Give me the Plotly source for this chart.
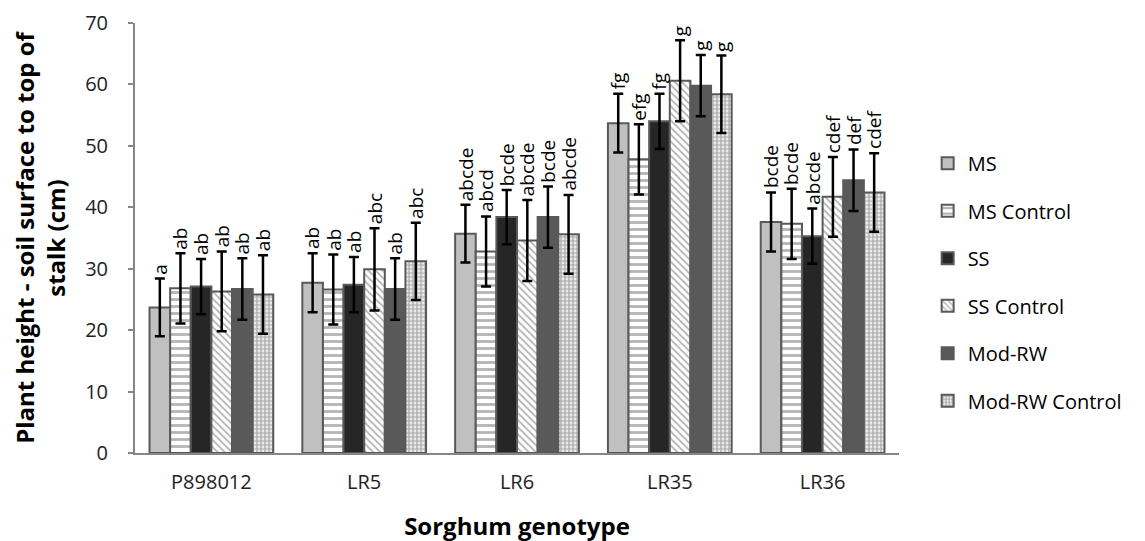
import plotly.graph_objects as go

genotypes = ["P898012", "LR5", "LR6", "LR35", "LR36"]
series = ["MS", "MS Control", "SS", "SS Control", "Mod-RW", "Mod-RW Control"]

ms = [23.7, 27.7, 35.7, 53.7, 37.6]
ms_control = [26.8, 26.6, 32.8, 47.8, 37.3]
ss = [27.1, 27.4, 38.4, 54.0, 35.3]
ss_control = [26.3, 29.9, 34.6, 60.6, 41.7]
mod_rw = [26.7, 26.7, 38.4, 59.8, 44.4]
mod_rw_control = [25.8, 31.2, 35.6, 58.4, 42.4]

ms_err = [4.7, 4.8, 4.7, 4.8, 4.8]
ms_control_err = [5.7, 5.7, 5.7, 5.7, 5.7]
ss_err = [4.5, 4.5, 4.4, 4.5, 4.5]
ss_control_err = [6.5, 6.7, 6.6, 6.6, 6.5]
mod_rw_err = [5.0, 5.0, 5.0, 5.0, 5.0]
mod_rw_control_err = [6.4, 6.3, 6.4, 6.3, 6.4]

ms_letters = ["a", "ab", "abcde", "fg", "bcde"]
ms_control_letters = ["ab", "ab", "abcd", "efg", "bcde"]
ss_letters = ["ab", "ab", "bcde", "fg", "abcde"]
ss_control_letters = ["ab", "abc", "abcde", "g", "cdef"]
mod_rw_letters = ["ab", "ab", "bcde", "g", "def"]
mod_rw_control_letters = ["ab", "abc", "abcde", "g", "cdef"]

values = [ms, ms_control, ss, ss_control, mod_rw, mod_rw_control]
errors = [ms_err, ms_control_err, ss_err, ss_control_err, mod_rw_err, mod_rw_control_err]
letters = [ms_letters, ms_control_letters, ss_letters, ss_control_letters, mod_rw_letters, mod_rw_control_letters]

edge = "#595959"
styles = [
    dict(color="#c0c0c0"),
    dict(color="white", pattern=dict(shape="-", fgcolor="#6a6a6a", bgcolor="white", size=7, solidity=0.4)),
    dict(color="#262626"),
    dict(color="white", pattern=dict(shape="\\", fgcolor="#6a6a6a", bgcolor="white", size=5, solidity=0.35)),
    dict(color="#595959"),
    dict(color="white", pattern=dict(shape=".", fgcolor="#6a6a6a", bgcolor="white", size=4, solidity=0.7)),
]

bargap = 0.19
fig = go.Figure()
for j, name in enumerate(series):
    fig.add_trace(go.Bar(
        name=name, x=genotypes, y=values[j],
        marker=dict(line=dict(color=edge, width=2), **styles[j]),
        error_y=dict(type="data", array=errors[j], color="black", thickness=2.5, width=5),
        legendgroup=name,
    ))

n = len(series)
w = (1 - bargap) / n
for j in range(n):
    for i in range(len(genotypes)):
        fig.add_annotation(
            x=i - (1 - bargap) / 2 + w * (j + 0.5),
            y=values[j][i] + errors[j][i],
            text=letters[j][i], textangle=-90, showarrow=False,
            xanchor="center", yanchor="bottom", yshift=2,
            font=dict(family="Open Sans", size=19, color="black"),
        )

fig.update_layout(
    width=1145, height=541,
    margin=dict(l=127, r=254, t=15, b=96),
    plot_bgcolor="white", paper_bgcolor="white",
    barmode="group", bargap=bargap, bargroupgap=0,
    font=dict(family="Open Sans", size=18, color="black"),
    legend=dict(x=1.0375, y=0.719, yanchor="top", xanchor="left",
                font=dict(size=20), tracegroupgap=18.5, bgcolor="rgba(0,0,0,0)"),
    xaxis=dict(showline=True, linecolor="#868686", linewidth=2, ticks="", automargin=False,
               tickfont=dict(size=20, color="#222"), ticklabelstandoff=10,
               title=dict(text="<b>Sorghum genotype</b>", font=dict(size=24), standoff=24)),
    yaxis=dict(range=[0, 70], dtick=10, showline=True, linecolor="#868686", linewidth=2,
               ticks="outside", ticklen=5, tickcolor="#868686", tickwidth=2, showgrid=False,
               zeroline=False, automargin=False, tickfont=dict(size=20, color="#222"),
               ticklabelstandoff=16, ticklabeloverflow="allow",
               title=dict(text="<b>Plant height - soil surface to top of<br>stalk (cm)</b>",
                          font=dict(size=24), standoff=14)),
)

fig.write_html("out.html")
